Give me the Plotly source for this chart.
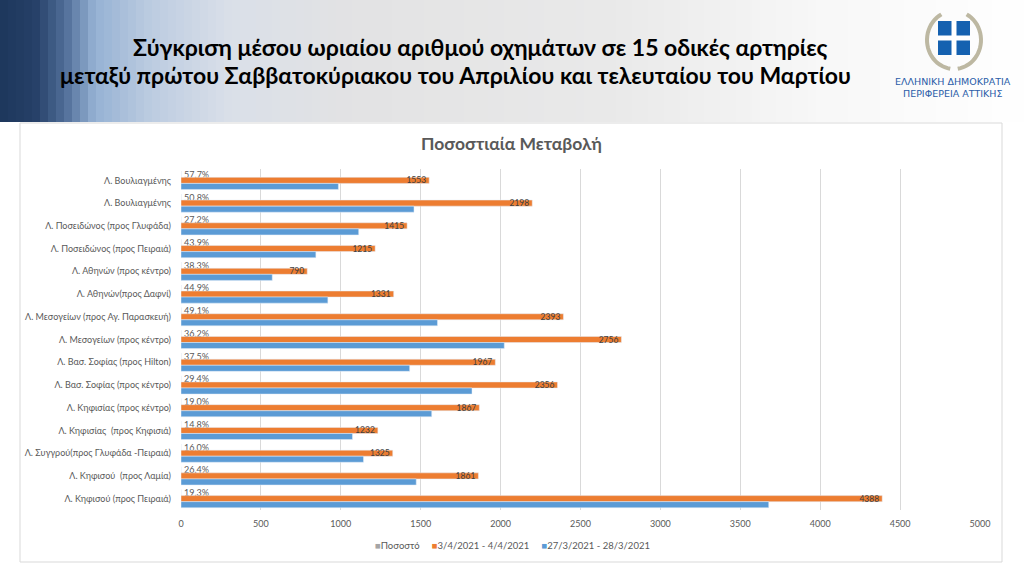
import math
import plotly.graph_objects as go

# road segments, listed top to bottom as in the slide
roads = [
    'Λ. Βουλιαγμένης',
    'Λ. Βουλιαγμένης',
    'Λ. Ποσειδώνος (προς Γλυφάδα)',
    'Λ. Ποσειδώνος (προς Πειραιά)',
    'Λ. Αθηνών (προς κέντρο)',
    'Λ. Αθηνών(προς Δαφνί)',
    'Λ. Μεσογείων (προς Αγ. Παρασκευή)',
    'Λ. Μεσογείων (προς κέντρο)',
    'Λ. Βασ. Σοφίας (προς Hilton)',
    'Λ. Βασ. Σοφίας (προς κέντρο)',
    'Λ. Κηφισίας (προς κέντρο)',
    'Λ. Κηφισίας  (προς Κηφισιά)',
    'Λ. Συγγρού(προς Γλυφάδα -Πειραιά)',
    'Λ. Κηφισού  (προς Λαμία)',
    'Λ. Κηφισού (προς Πειραιά)',
]
pososto = [0.577, 0.508, 0.272, 0.439, 0.383, 0.449, 0.491, 0.362, 0.375, 0.294, 0.190, 0.148, 0.160, 0.264, 0.193]
april = [1553, 2198, 1415, 1215, 790, 1331, 2393, 2756, 1967, 2356, 1867, 1232, 1325, 1861, 4388]
march = [985, 1458, 1112, 844, 571, 919, 1605, 2023, 1431, 1821, 1569, 1073, 1142, 1472, 3678]
x_ticks = [0, 500, 1000, 1500, 2000, 2500, 3000, 3500, 4000, 4500, 5000]
series_names = ['Ποσοστό', '3/4/2021 - 4/4/2021', '27/3/2021 - 28/3/2021']
series_colors = ['#A5A5A5', '#ED7D31', '#5B9BD5']

W, H = 1024, 576
L, R, T, B = 181, 44, 169, 66
PW, PH = W - L - R, H - T - B

def px(p):
    return (p - L) / PW

def py(p):
    return (H - B - p) / PH

FONT = 'Lato'
GREY = '#595959'
pos = list(range(len(roads)))

fig = go.Figure()
fig.add_trace(go.Bar(
    name=series_names[0], y=pos, x=pososto, orientation='h',
    marker_color=series_colors[0], texttemplate='%{x:.1%}', textposition='outside',
    textfont=dict(size=9, color=GREY), constraintext='none', cliponaxis=False,
    textangle=0, hoverinfo='x',
))
fig.add_trace(go.Bar(
    name=series_names[1], y=pos, x=april, orientation='h',
    marker_color=series_colors[1], text=april, textposition='inside', insidetextanchor='end',
    textfont=dict(size=8.5, color='#404040'), constraintext='none', textangle=0,
))
fig.add_trace(go.Bar(
    name=series_names[2], y=pos, x=march, orientation='h',
    marker_color=series_colors[2],
))

shapes = []
# header gradient
stops = [(0, (30, 56, 92)), (35, (38, 64, 104)), (65, (80, 110, 152)), (95, (150, 178, 212)),
         (150, (188, 204, 225)), (230, (218, 224, 233)), (350, (227, 227, 228)),
         (620, (234, 234, 234)), (820, (248, 248, 248)), (1024, (255, 255, 255))]
step = 8
for x0 in range(0, W, step):
    xm = x0 + step / 2
    for (a, ca), (b, cb) in zip(stops[:-1], stops[1:]):
        if a <= xm <= b:
            t = (xm - a) / (b - a)
            c = tuple(int(ca[k] + (cb[k] - ca[k]) * t) for k in range(3))
            break
    shapes.append(dict(type='rect', xref='paper', yref='paper', layer='below',
                       x0=px(x0), x1=px(x0 + step + 0.5), y0=py(122), y1=py(0),
                       fillcolor='rgb(%d,%d,%d)' % c, line_width=0))
# chart frame
shapes.append(dict(type='rect', xref='paper', yref='paper', layer='below',
                   x0=px(20), x1=px(1002), y0=py(562), y1=py(123),
                   fillcolor='white', line=dict(color='#D9D9D9', width=1)))

# emblem: laurel wreath (two arcs), blue shield, white cross
def arc(a0, a1, cx=954, cy=40, rx=27, ry=29, n=24):
    pts = []
    for i in range(n + 1):
        a = math.radians(a0 + (a1 - a0) * i / n)
        pts.append((px(cx + rx * math.cos(a)), py(cy - ry * math.sin(a))))
    return 'M' + ' L'.join('%.5f,%.5f' % p for p in pts)

for a0, a1 in [(118, 262), (62, -82)]:
    shapes.append(dict(type='path', xref='paper', yref='paper', layer='above',
                       path=arc(a0, a1), line=dict(color='#BDB8A2', width=4)))
shapes.append(dict(type='rect', xref='paper', yref='paper', layer='above',
                   x0=px(938), x1=px(970), y0=py(55), y1=py(21),
                   fillcolor='#1561B0', line_width=0))
shapes.append(dict(type='rect', xref='paper', yref='paper', layer='above',
                   x0=px(951.5), x1=px(956.5), y0=py(55), y1=py(21),
                   fillcolor='white', line_width=0))
shapes.append(dict(type='rect', xref='paper', yref='paper', layer='above',
                   x0=px(938), x1=px(970), y0=py(40.5), y1=py(35.5),
                   fillcolor='white', line_width=0))

sp = '&nbsp;' * 5
legend_text = sp.join(
    "<span style='color:%s'>■</span>%s" % (c, n) for c, n in zip(series_colors, series_names))

annotations = [
    dict(text='<b>Σύγκριση μέσου ωριαίου αριθμού οχημάτων σε 15 οδικές αρτηρίες</b>',
         x=px(480), y=py(47), font=dict(size=23, color='black', family=FONT)),
    dict(text='<b>μεταξύ πρώτου Σαββατοκύριακου του Απριλίου και τελευταίου του Μαρτίου</b>',
         x=px(455), y=py(75), font=dict(size=23, color='black', family=FONT)),
    dict(text='ΕΛΛΗΝΙΚΗ ΔΗΜΟΚΡΑΤΙΑ', x=px(953), y=py(81),
         font=dict(size=9.5, color='#2B5DA8', family='DejaVu Sans')),
    dict(text='ΠΕΡΙΦΕΡΕΙΑ ΑΤΤΙΚΗΣ', x=px(953), y=py(94),
         font=dict(size=9.5, color='#2B5DA8', family='DejaVu Sans')),
    dict(text='<b>Ποσοστιαία Μεταβολή</b>', x=px(511), y=py(143),
         font=dict(size=17.5, color=GREY, family=FONT)),
    dict(text=legend_text, x=px(512), y=py(545), font=dict(size=9.5, color=GREY, family=FONT)),
]
for a in annotations:
    a.update(xref='paper', yref='paper', showarrow=False, xanchor='center', yanchor='middle')

fig.update_layout(
    width=W, height=H,
    margin=dict(l=L, r=R, t=T, b=B, pad=0),
    paper_bgcolor='white', plot_bgcolor='white',
    font=dict(family=FONT, color=GREY, size=9),
    barmode='group', bargap=0.2, bargroupgap=0,
    shapes=shapes, annotations=annotations,
    showlegend=False,
    xaxis=dict(range=[0, 5000], tickvals=x_ticks, showgrid=True, gridcolor='#D9D9D9',
               zeroline=False, showline=False, ticklabelstandoff=7,
               tickfont=dict(size=9, color=GREY), fixedrange=True),
    yaxis=dict(tickvals=pos, ticktext=roads, autorange='reversed', showgrid=False,
               zeroline=False, showline=False, ticklabelstandoff=9,
               tickfont=dict(size=9, color=GREY), fixedrange=True),
)

fig.write_html('out.html', config={'displayModeBar': False},
               post_script="document.body.style.margin='0';")
